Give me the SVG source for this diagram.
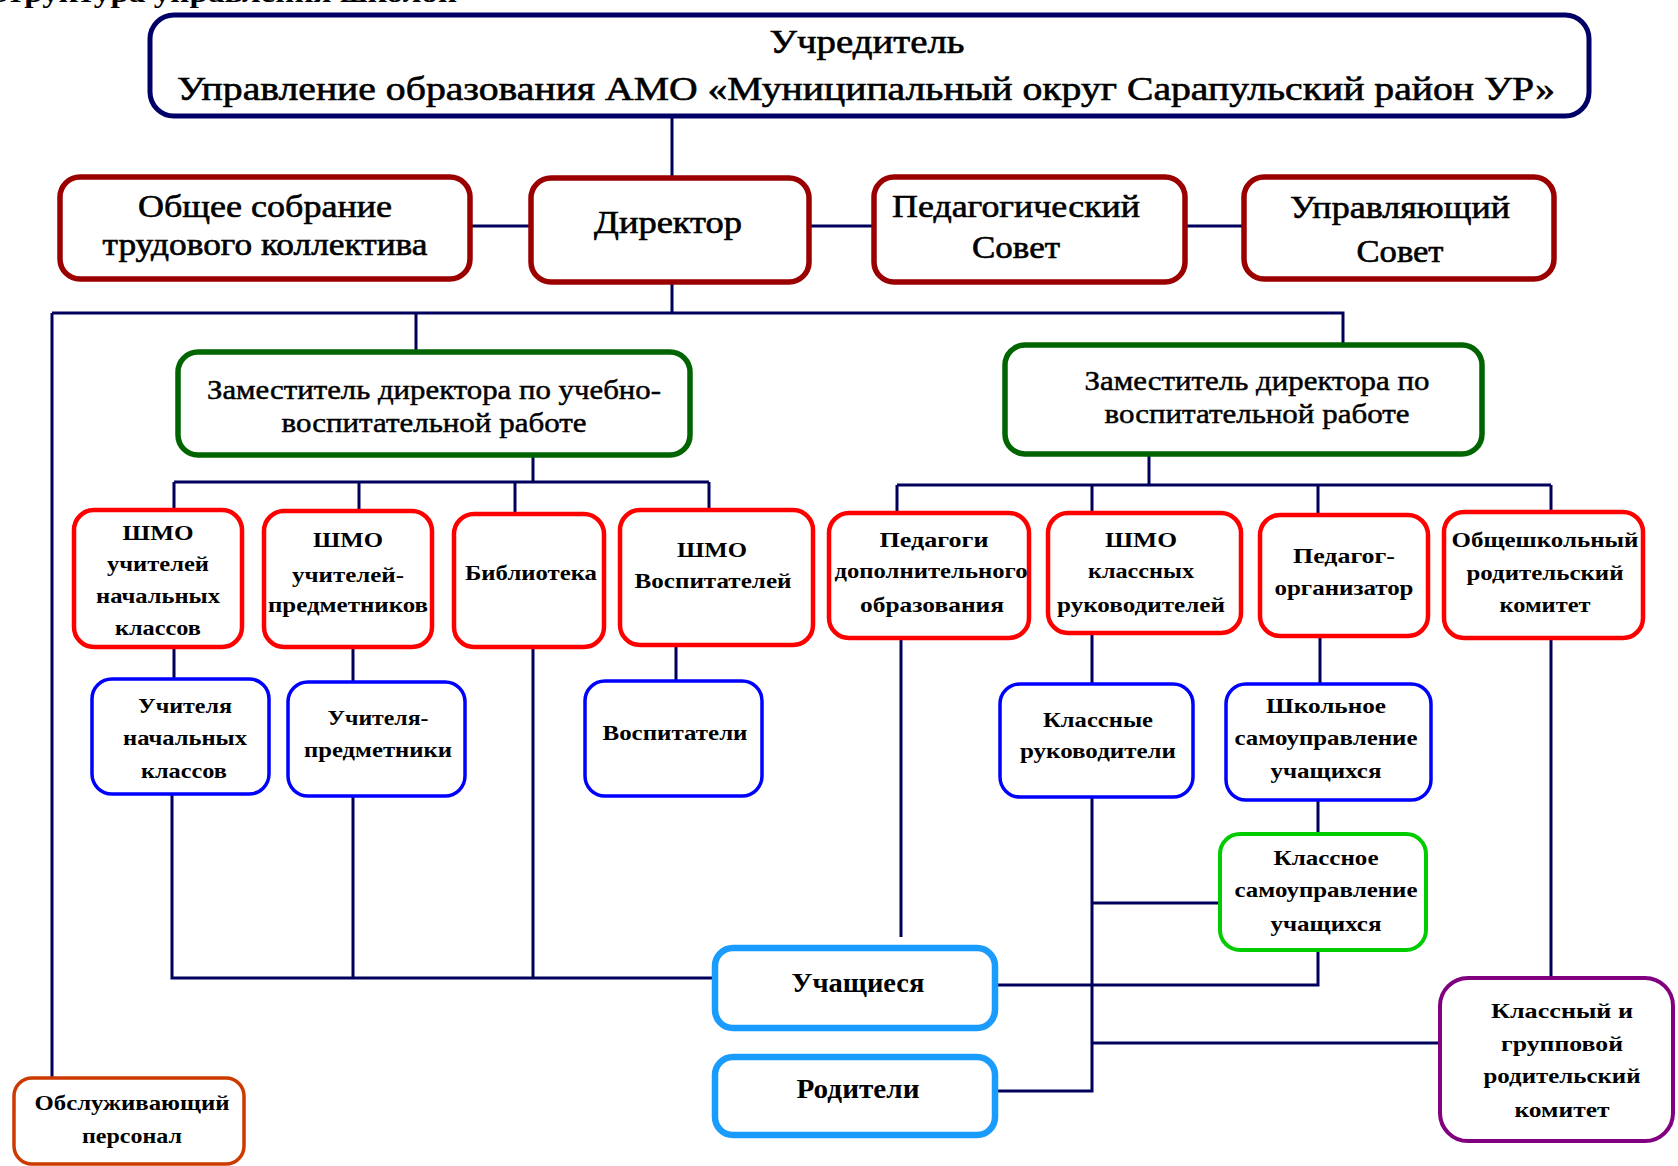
<svg xmlns="http://www.w3.org/2000/svg" width="1678" height="1166" viewBox="0 0 1678 1166">
<style>
.bx{fill:#fff;}
.navy{stroke:#000066;stroke-width:5;}
.dred{stroke:#9b0000;stroke-width:5.5;}
.green{stroke:#006400;stroke-width:5.5;}
.red{stroke:#ff0000;stroke-width:4.5;}
.blue{stroke:#0000ff;stroke-width:3.5;}
.sky{stroke:#1a9cff;stroke-width:6.5;}
.lime{stroke:#00cc00;stroke-width:4;}
.purple{stroke:#800080;stroke-width:4;}
.orange{stroke:#cc3a00;stroke-width:3.5;}
text{font-family:"Liberation Serif","DejaVu Serif",serif;fill:#000;text-anchor:middle;}
.t1{font-size:33px;stroke:#000;stroke-width:0.6px;}
.t2{font-size:31px;stroke:#000;stroke-width:0.6px;}
.t3{font-size:28px;stroke:#000;stroke-width:0.5px;}
.s{font-size:22px;font-weight:bold;}
.m{font-size:27px;font-weight:bold;}
#connectors path{fill:none;stroke:#00005c;stroke-width:3;}
</style>

<text x="-16" y="2" textLength="473" lengthAdjust="spacingAndGlyphs" style="font-size:28px;font-weight:bold;text-anchor:start">Структура управления школой</text>

<g id="connectors">
<path d="M672 118V177"/>
<path d="M470 226H531M809 226H874M1185 226H1244"/>
<path d="M672 282V313M52 313H1343V345M416 313V351M52 313V1078"/>
<path d="M533 455V482M174 482H709M174 482V510M359 482V511M515 482V514M709 482V510"/>
<path d="M1149 454V485M897 485H1551M897 485V513M1092 485V513M1318 485V515M1551 485V512"/>
<path d="M174 647V679M353 647V682M676 645V681"/>
<path d="M172 794V978H715M353 796V978M533 647V978"/>
<path d="M901 638V937"/>
<path d="M1092 633V684M1320 636V684"/>
<path d="M1092 797V1091H995M1092 903H1220M1092 1043H1440"/>
<path d="M1318 800V834M1318 950V985H995"/>
<path d="M1551 638V978"/>
</g>

<g id="n-uchreditel">
<rect class="bx navy" x="150" y="15" width="1439" height="101" rx="24"/>
<text class="t1" x="867" y="53" textLength="195" lengthAdjust="spacingAndGlyphs">Учредитель</text>
<text class="t1" x="866" y="100" textLength="1378" lengthAdjust="spacingAndGlyphs">Управление образования АМО «Муниципальный округ Сарапульский район УР»</text>
</g>

<g id="n-sobranie">
<rect class="bx dred" x="60" y="177" width="410" height="102" rx="20"/>
<text class="t2" x="265" y="217" textLength="254" lengthAdjust="spacingAndGlyphs">Общее собрание</text>
<text class="t2" x="265" y="255" textLength="325" lengthAdjust="spacingAndGlyphs">трудового коллектива</text>
</g>

<g id="n-direktor">
<rect class="bx dred" x="531" y="178" width="278" height="104" rx="20"/>
<text class="t2" x="668" y="233" textLength="148" lengthAdjust="spacingAndGlyphs">Директор</text>
</g>

<g id="n-pedsovet">
<rect class="bx dred" x="874" y="177" width="311" height="105" rx="20"/>
<text class="t2" x="1016" y="217" textLength="248" lengthAdjust="spacingAndGlyphs">Педагогический</text>
<text class="t2" x="1016" y="258" textLength="88" lengthAdjust="spacingAndGlyphs">Совет</text>
</g>

<g id="n-upravsovet">
<rect class="bx dred" x="1244" y="177" width="310" height="102" rx="20"/>
<text class="t2" x="1400" y="218" textLength="220" lengthAdjust="spacingAndGlyphs">Управляющий</text>
<text class="t2" x="1400" y="262" textLength="87" lengthAdjust="spacingAndGlyphs">Совет</text>
</g>

<g id="n-zam-uvr">
<rect class="bx green" x="178" y="352" width="512" height="103" rx="20"/>
<text class="t3" x="434" y="399" textLength="454" lengthAdjust="spacingAndGlyphs">Заместитель директора по учебно-</text>
<text class="t3" x="434" y="432" textLength="305" lengthAdjust="spacingAndGlyphs">воспитательной работе</text>
</g>

<g id="n-zam-vr">
<rect class="bx green" x="1005" y="345" width="477" height="109" rx="20"/>
<text class="t3" x="1257" y="390" textLength="345" lengthAdjust="spacingAndGlyphs">Заместитель директора по</text>
<text class="t3" x="1257" y="423" textLength="305" lengthAdjust="spacingAndGlyphs">воспитательной работе</text>
</g>

<g id="n-shmo-nach">
<rect class="bx red" x="74" y="510" width="168" height="137" rx="20"/>
<text class="s" x="158" y="540" textLength="71" lengthAdjust="spacingAndGlyphs">ШМО</text>
<text class="s" x="158" y="571" textLength="102" lengthAdjust="spacingAndGlyphs">учителей</text>
<text class="s" x="158" y="603" textLength="124" lengthAdjust="spacingAndGlyphs">начальных</text>
<text class="s" x="158" y="635" textLength="86" lengthAdjust="spacingAndGlyphs">классов</text>
</g>

<g id="n-shmo-pred">
<rect class="bx red" x="264" y="511" width="168" height="136" rx="20"/>
<text class="s" x="348" y="547" textLength="70" lengthAdjust="spacingAndGlyphs">ШМО</text>
<text class="s" x="348" y="582" textLength="112" lengthAdjust="spacingAndGlyphs">учителей-</text>
<text class="s" x="348" y="612" textLength="160" lengthAdjust="spacingAndGlyphs">предметников</text>
</g>

<g id="n-biblioteka">
<rect class="bx red" x="454" y="514" width="150" height="133" rx="20"/>
<text class="s" x="531" y="580" textLength="132" lengthAdjust="spacingAndGlyphs">Библиотека</text>
</g>

<g id="n-shmo-vosp">
<rect class="bx red" x="620" y="510" width="193" height="135" rx="20"/>
<text class="s" x="712" y="557" textLength="70" lengthAdjust="spacingAndGlyphs">ШМО</text>
<text class="s" x="713" y="588" textLength="157" lengthAdjust="spacingAndGlyphs">Воспитателей</text>
</g>

<g id="n-pdo">
<rect class="bx red" x="829" y="513" width="200" height="125" rx="20"/>
<text class="s" x="934" y="547" textLength="109" lengthAdjust="spacingAndGlyphs">Педагоги</text>
<text class="s" x="931" y="578" textLength="193" lengthAdjust="spacingAndGlyphs">дополнительного</text>
<text class="s" x="932" y="612" textLength="144" lengthAdjust="spacingAndGlyphs">образования</text>
</g>

<g id="n-shmo-kl">
<rect class="bx red" x="1048" y="513" width="193" height="120" rx="20"/>
<text class="s" x="1141" y="547" textLength="72" lengthAdjust="spacingAndGlyphs">ШМО</text>
<text class="s" x="1141" y="578" textLength="106" lengthAdjust="spacingAndGlyphs">классных</text>
<text class="s" x="1141" y="612" textLength="168" lengthAdjust="spacingAndGlyphs">руководителей</text>
</g>

<g id="n-pedorg">
<rect class="bx red" x="1260" y="515" width="168" height="121" rx="20"/>
<text class="s" x="1344" y="563" textLength="102" lengthAdjust="spacingAndGlyphs">Педагог-</text>
<text class="s" x="1344" y="595" textLength="139" lengthAdjust="spacingAndGlyphs">организатор</text>
</g>

<g id="n-obrodkom">
<rect class="bx red" x="1444" y="512" width="199" height="126" rx="20"/>
<text class="s" x="1545" y="547" textLength="187" lengthAdjust="spacingAndGlyphs">Общешкольный</text>
<text class="s" x="1545" y="580" textLength="157" lengthAdjust="spacingAndGlyphs">родительский</text>
<text class="s" x="1545" y="612" textLength="91" lengthAdjust="spacingAndGlyphs">комитет</text>
</g>

<g id="n-uch-nach">
<rect class="bx blue" x="92" y="679" width="177" height="115" rx="20"/>
<text class="s" x="185" y="713" textLength="94" lengthAdjust="spacingAndGlyphs">Учителя</text>
<text class="s" x="185" y="745" textLength="124" lengthAdjust="spacingAndGlyphs">начальных</text>
<text class="s" x="184" y="778" textLength="86" lengthAdjust="spacingAndGlyphs">классов</text>
</g>

<g id="n-uch-pred">
<rect class="bx blue" x="288" y="682" width="177" height="114" rx="20"/>
<text class="s" x="378" y="725" textLength="101" lengthAdjust="spacingAndGlyphs">Учителя-</text>
<text class="s" x="378" y="757" textLength="148" lengthAdjust="spacingAndGlyphs">предметники</text>
</g>

<g id="n-vospitateli">
<rect class="bx blue" x="585" y="681" width="177" height="115" rx="20"/>
<text class="s" x="675" y="740" textLength="145" lengthAdjust="spacingAndGlyphs">Воспитатели</text>
</g>

<g id="n-kl-ruk">
<rect class="bx blue" x="1000" y="684" width="193" height="113" rx="20"/>
<text class="s" x="1098" y="727" textLength="110" lengthAdjust="spacingAndGlyphs">Классные</text>
<text class="s" x="1098" y="758" textLength="156" lengthAdjust="spacingAndGlyphs">руководители</text>
</g>

<g id="n-shk-samoupr">
<rect class="bx blue" x="1226" y="684" width="205" height="116" rx="20"/>
<text class="s" x="1326" y="713" textLength="120" lengthAdjust="spacingAndGlyphs">Школьное</text>
<text class="s" x="1326" y="745" textLength="183" lengthAdjust="spacingAndGlyphs">самоуправление</text>
<text class="s" x="1326" y="778" textLength="111" lengthAdjust="spacingAndGlyphs">учащихся</text>
</g>

<g id="n-kl-samoupr">
<rect class="bx lime" x="1220" y="834" width="206" height="116" rx="20"/>
<text class="s" x="1326" y="865" textLength="105" lengthAdjust="spacingAndGlyphs">Классное</text>
<text class="s" x="1326" y="897" textLength="183" lengthAdjust="spacingAndGlyphs">самоуправление</text>
<text class="s" x="1326" y="931" textLength="111" lengthAdjust="spacingAndGlyphs">учащихся</text>
</g>

<g id="n-uchashchiesya">
<rect class="bx sky" x="715" y="948" width="280" height="80" rx="18"/>
<text class="m" x="858" y="992" textLength="133" lengthAdjust="spacingAndGlyphs">Учащиеся</text>
</g>

<g id="n-roditeli">
<rect class="bx sky" x="715" y="1057" width="280" height="78" rx="18"/>
<text class="m" x="858" y="1098" textLength="123" lengthAdjust="spacingAndGlyphs">Родители</text>
</g>

<g id="n-kl-rodkom">
<rect class="bx purple" x="1440" y="978" width="233" height="163" rx="28"/>
<text class="s" x="1562" y="1018" textLength="142" lengthAdjust="spacingAndGlyphs">Классный  и</text>
<text class="s" x="1562" y="1051" textLength="122" lengthAdjust="spacingAndGlyphs">групповой</text>
<text class="s" x="1562" y="1083" textLength="157" lengthAdjust="spacingAndGlyphs">родительский</text>
<text class="s" x="1562" y="1117" textLength="95" lengthAdjust="spacingAndGlyphs">комитет</text>
</g>

<g id="n-obsl">
<rect class="bx orange" x="14" y="1078" width="230" height="86" rx="18"/>
<text class="s" x="132" y="1110" textLength="195" lengthAdjust="spacingAndGlyphs">Обслуживающий</text>
<text class="s" x="132" y="1143" textLength="100" lengthAdjust="spacingAndGlyphs">персонал</text>
</g>
</svg>
